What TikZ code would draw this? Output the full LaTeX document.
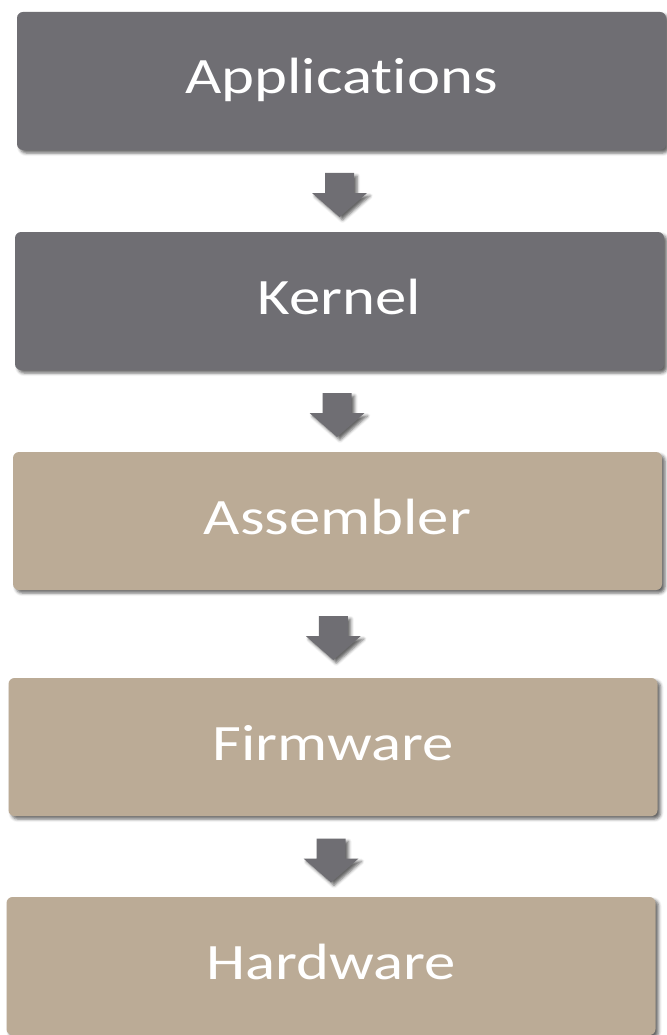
\documentclass[tikz,border=0pt]{standalone}
\usepackage{fontspec}
\setmainfont{Carlito}[Ligatures=NoCommon]
\usepackage{graphicx}
\usetikzlibrary{shadows.blur,calc}
\definecolor{slate}{HTML}{6F6E73}
\definecolor{sand}{HTML}{BBAB96}
\tikzset{
  softshadow/.style={blur shadow={shadow xshift=3pt, shadow yshift=-3pt, shadow blur radius=3pt, shadow opacity=60}},
  layerbox/.style={rounded corners=6pt, minimum width=649pt, minimum height=138pt,
    inner sep=0pt, text=white, font=\fontsize{51}{60}\selectfont,
    text height=33pt, text depth=7pt, softshadow},
  darkbox/.style={layerbox, fill=slate},
  lightbox/.style={layerbox, fill=sand},
  arrowfill/.style={fill=slate, softshadow},
  downarrow/.pic={\fill[arrowfill] (-14.5,-22) -- (14.5,-22) -- (14.5,-2) -- (27.5,-2) -- (0,22) -- (-27.5,-2) -- (-14.5,-2) -- cycle;}
}
\begin{document}
\begin{tikzpicture}[x=1pt,y=-1pt]
\useasboundingbox (0,0) rectangle (666,1035);
\node[darkbox]  (app) at (341.5,81)  {\scalebox{1.23}[1]{Applications}};
\node[darkbox]  (ker) at (339.5,301) {\scalebox{1.23}[1]{Kernel}};
\node[lightbox] (asm) at (337.5,521) {\scalebox{1.23}[1]{Assembler}};
\node[lightbox] (fw)  at (333,747)   {\scalebox{1.23}[1]{Firmware}};
\node[lightbox] (hw)  at (331,966)   {\scalebox{1.23}[1]{Hardware}};
\pic at ($(app.south)!0.5!(ker.north)+(-1,4)$) {downarrow};
\pic at ($(ker.south)!0.5!(asm.north)+(-1.5,4)$) {downarrow};
\pic at ($(asm.south)!0.5!(fw.north)+(-2,4)$) {downarrow};
\pic at ($(fw.south)!0.5!(hw.north)+(-1,4)$) {downarrow};
\end{tikzpicture}
\end{document}
